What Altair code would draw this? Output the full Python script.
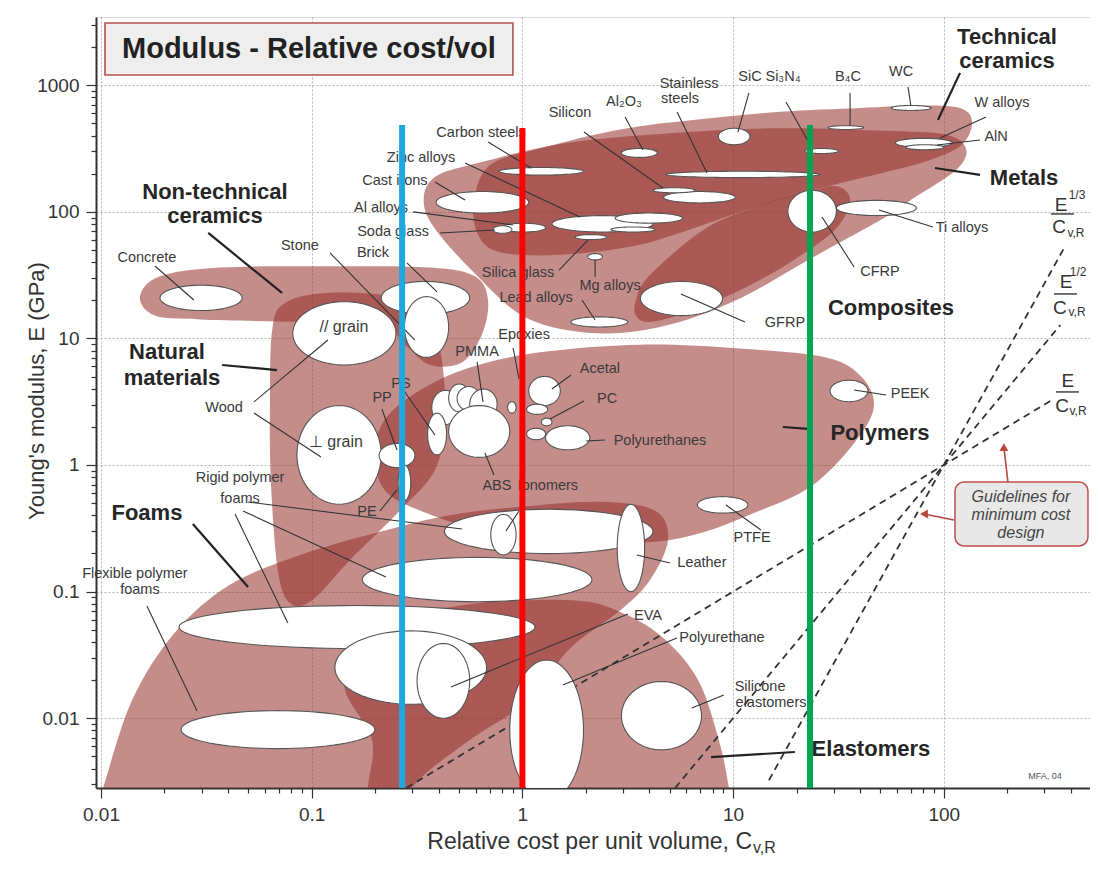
import altair as alt
import numpy as np
import pandas as pd

FONT = "Liberation Sans"

# ---------------------------------------------------------------------------
# Plot ranges: relative cost per unit volume (x) and Young's modulus, GPa (y)
X_DOMAIN = [0.00947, 494.0]
Y_DOMAIN = [0.00281, 3456.0]
W, H = 994, 771

# ---------------------------------------------------------------------------
# Family envelopes, control points as (log10 cost, log10 modulus)
env_technical_ceramics = [(-0.23, 2.09), (-0.154, 2.37), (0.083, 2.50), (0.463, 2.65), (0.842, 2.73),
                          (1.222, 2.79), (1.602, 2.82), (1.887, 2.84), (2.077, 2.82), (2.134, 2.71),
                          (2.086, 2.53), (1.934, 2.41), (1.716, 2.31), (1.379, 2.17), (1.037, 2.00),
                          (0.795, 1.86), (0.530, 1.73), (0.178, 1.66), (-0.106, 1.68), (-0.211, 1.82)]
env_metals = [(-0.467, 2.13), (-0.40, 2.29), (-0.201, 2.39), (0.193, 2.54), (0.70, 2.62), (1.208, 2.66),
              (1.716, 2.64), (2.005, 2.61), (2.105, 2.50), (2.058, 2.33), (1.84, 2.09), (1.716, 1.95),
              (1.379, 1.64), (1.037, 1.32), (0.70, 1.11), (0.363, 1.04), (0.022, 1.16), (-0.23, 1.52),
              (-0.429, 1.90)]
env_composites = [(0.539, 1.30), (0.605, 1.50), (0.871, 1.87), (1.128, 2.05), (1.379, 2.17), (1.498, 2.20),
                  (1.555, 2.09), (1.484, 1.86), (1.27, 1.60), (1.032, 1.38), (0.795, 1.21), (0.605, 1.13),
                  (0.539, 1.18)]
env_nontech_ceramics = [(-1.815, 1.33), (-1.72, 1.49), (-1.435, 1.56), (-0.913, 1.57), (-0.439, 1.56),
                        (-0.225, 1.49), (-0.163, 1.30), (-0.192, 1.03), (-0.287, 0.81), (-0.439, 0.79),
                        (-0.557, 0.95), (-0.676, 1.11), (-1.055, 1.13), (-1.53, 1.15), (-1.744, 1.18)]
env_natural = [(-1.187, 1.07), (-1.127, 1.28), (-0.913, 1.36), (-0.581, 1.32), (-0.439, 1.15), (-0.382, 0.83),
               (-0.368, 0.36), (-0.415, -0.04), (-0.581, -0.36), (-0.818, -0.75), (-0.999, -1.07),
               (-1.104, -1.09), (-1.161, -0.83), (-1.194, -0.12), (-1.198, 0.51)]
env_polymers = [(-0.70, 0.08), (-0.653, 0.36), (-0.486, 0.59), (-0.249, 0.77), (0.083, 0.89), (0.558, 0.95),
                (1.032, 0.92), (1.44, 0.85), (1.607, 0.70), (1.668, 0.46), (1.573, 0.17), (1.369, -0.17),
                (1.099, -0.38), (0.842, -0.54), (0.591, -0.61), (0.178, -0.59), (-0.201, -0.51),
                (-0.486, -0.36), (-0.653, -0.20)]
env_foams = [(-2.05, -2.88), (-1.99, -2.55), (-1.853, -1.86), (-1.653, -1.33), (-1.392, -0.95), (-1.055, -0.71),
             (-0.657, -0.52), (-0.358, -0.40), (-0.011, -0.33), (0.368, -0.29), (0.629, -0.36), (0.691, -0.59),
             (0.605, -0.91), (0.463, -1.15), (0.273, -1.38), (0.178, -1.54), (0.036, -1.86), (-0.249, -2.17),
             (-0.524, -2.55), (-0.557, -2.88)]
env_elastomers = [(-0.733, -2.88), (-0.733, -2.55), (-0.714, -2.17), (-0.842, -1.78), (-0.818, -1.46),
                  (-0.629, -1.24), (-0.296, -1.11), (-0.011, -1.07), (0.254, -1.07), (0.42, -1.13),
                  (0.643, -1.33), (0.828, -1.68), (0.932, -2.17), (0.980, -2.55), (1.008, -2.88)]

# ---------------------------------------------------------------------------
# Material bubbles: (name, log10 cost low, high, log10 modulus low, high)
bubbles_metals_ceramics = [
    ("Cast irons", -0.41, 0.03, 1.99, 2.16), ("Carbon steels", -0.11, 0.29, 2.29, 2.35),
    ("Zinc alloys", 0.14, 0.62, 1.84, 1.97), ("Cu alloys", 0.44, 0.76, 1.91, 1.99),
    ("Ni alloys", 0.42, 0.63, 1.84, 1.88), ("Silica glass", 0.25, 0.40, 1.78, 1.82),
    ("Al alloys", -0.10, 0.11, 1.84, 1.91), ("Soda glass", -0.14, -0.05, 1.83, 1.89),
    ("Mg alloys", 0.31, 0.38, 1.62, 1.67), ("Lead alloys", 0.23, 0.50, 1.09, 1.17),
    ("Silicon", 0.67, 1.01, 2.07, 2.16), ("Silicon b", 0.62, 0.82, 2.15, 2.19),
    ("Al2O3", 0.47, 0.64, 2.43, 2.50), ("Stainless steels", 0.68, 1.41, 2.27, 2.32),
    ("SiC", 0.93, 1.08, 2.53, 2.66), ("Si3N4", 1.34, 1.50, 2.46, 2.50),
    ("B4C", 1.45, 1.62, 2.65, 2.68), ("WC", 1.75, 1.94, 2.80, 2.84),
    ("W alloys", 1.77, 2.04, 2.51, 2.58), ("AlN", 1.82, 2.00, 2.49, 2.53),
    ("CFRP", 1.26, 1.49, 1.84, 2.17), ("Ti alloys", 1.49, 1.87, 1.97, 2.09),
    ("GFRP", 0.56, 0.95, 1.18, 1.45),
]
bubbles_natural = [
    ("Concrete", -1.72, -1.33, 1.22, 1.42), ("Brick", -0.67, -0.25, 1.19, 1.45),
    ("Stone", -0.56, -0.35, 0.85, 1.33), ("Wood par", -1.09, -0.60, 0.79, 1.29),
    ("Wood perp", -1.07, -0.67, -0.31, 0.47),
]
bubbles_polymers = [
    ("PP", -0.68, -0.51, -0.02, 0.17), ("PE", -0.59, -0.53, -0.28, 0.00),
    ("Poly a", -0.43, -0.30, 0.32, 0.59), ("Poly b", -0.35, -0.25, 0.42, 0.64),
    ("Poly c", -0.31, -0.20, 0.43, 0.62), ("PS", -0.45, -0.36, 0.08, 0.41),
    ("PMMA", -0.25, -0.12, 0.36, 0.60), ("ABS", -0.35, -0.06, 0.06, 0.47),
    ("Epoxies", -0.07, -0.03, 0.41, 0.50), ("Acetal", 0.03, 0.18, 0.47, 0.70),
    ("Polyester", 0.02, 0.12, 0.40, 0.48), ("PC", 0.09, 0.14, 0.31, 0.37),
    ("PET", 0.02, 0.11, 0.20, 0.29), ("Polyurethanes", 0.11, 0.32, 0.12, 0.31),
    ("PTFE", 0.83, 1.07, -0.38, -0.25), ("PEEK", 1.46, 1.64, 0.50, 0.67),
]
bubbles_foams_elastomers = [
    ("Rigid foam a", -0.37, 0.62, -0.70, -0.35), ("Ionomers", -0.15, -0.03, -0.71, -0.39),
    ("Leather", 0.45, 0.58, -1.00, -0.31), ("Rigid foam b", -0.76, 0.33, -1.08, -0.73),
    ("Rigid foam c", -1.63, 0.06, -1.45, -1.11), ("Flexible foam b", -0.89, -0.17, -1.89, -1.31),
    ("EVA", -0.50, -0.25, -2.00, -1.41), ("Flexible foams", -1.62, -0.70, -2.24, -1.94),
    ("Polyurethane", -0.06, 0.29, -2.65, -1.54), ("Silicone elastomers", 0.47, 0.85, -2.25, -1.71),
]

# ---------------------------------------------------------------------------
# Labels (text, log10 cost, log10 modulus)
material_labels = [
    ("Concrete", -1.782, 1.635), ("Stone", -1.056, 1.730), ("Brick", -0.709, 1.675),
    ("Soda glass", -0.614, 1.841), ("Al alloys", -0.671, 2.030), ("Cast irons", -0.605, 2.243),
    ("Zinc alloys", -0.481, 2.425), ("Carbon steels", -0.196, 2.623), ("Silicon", 0.226, 2.781),
    ("Al₂O₃", 0.482, 2.868), ("Stainless", 0.791, 3.010), ("steels", 0.748, 2.891),
    ("SiC", 1.080, 3.065), ("Si₃N₄", 1.237, 3.065), ("B₄C", 1.545, 3.065), ("WC", 1.797, 3.105),
    ("W alloys", 2.276, 2.860), ("AlN", 2.248, 2.591), ("Ti alloys", 2.086, 1.872),
    ("CFRP", 1.697, 1.525), ("GFRP", 1.246, 1.122), ("Silica glass", -0.021, 1.517),
    ("Mg alloys", 0.416, 1.414), ("Lead alloys", 0.065, 1.319), ("Epoxies", 0.008, 1.027),
    ("PMMA", -0.215, 0.893), ("Acetal", 0.368, 0.758), ("PC", 0.402, 0.521),
    ("Polyurethanes", 0.653, 0.190), ("PS", -0.576, 0.640), ("PP", -0.666, 0.529),
    ("PE", -0.738, -0.371), ("ABS", -0.121, -0.166), ("Ionomers", 0.121, -0.166),
    ("Rigid polymer", -1.340, -0.103), ("foams", -1.340, -0.269),
    ("Flexible polymer", -1.839, -0.861), ("foams", -1.815, -0.987),
    ("Wood", -1.416, 0.450), ("Leather", 0.852, -0.774), ("PTFE", 1.090, -0.577),
    ("PEEK", 1.840, 0.561), ("EVA", 0.596, -1.193), ("Polyurethane", 0.947, -1.367),
    ("Silicone", 1.128, -1.754), ("elastomers", 1.180, -1.880),
]
grain_labels = [("// grain", -0.847, 1.090), ("⊥ grain", -0.885, 0.182)]
family_labels = [
    ("Technical", 2.300, 3.381), ("ceramics", 2.300, 3.191), ("Metals", 2.381, 2.267),
    ("Non-technical", -1.459, 2.160), ("ceramics", -1.459, 1.967), ("Natural", -1.687, 0.893),
    ("materials", -1.663, 0.687), ("Foams", -1.782, -0.379), ("Composites", 1.749, 1.240),
    ("Polymers", 1.697, 0.253), ("Elastomers", 1.654, -2.243),
]

# Leader lines (log10 cost 1, log10 E 1, log10 cost 2, log10 E 2)
material_leaders = [
    (-1.744, 1.572, -1.559, 1.303), (-0.913, 1.675, -0.510, 0.987), (-0.548, 1.596, -0.405, 1.367),
    (-0.391, 1.833, -0.130, 1.856), (-0.519, 1.999, -0.044, 1.896), (-0.415, 2.235, -0.272, 2.093),
    (-0.272, 2.386, 0.273, 1.959), (-0.163, 2.551, 0.041, 2.346), (0.292, 2.630, 0.667, 2.188),
    (0.487, 2.749, 0.572, 2.488), (0.734, 2.788, 0.876, 2.307), (1.075, 2.939, 1.023, 2.630),
    (1.251, 2.868, 1.374, 2.504), (1.555, 2.939, 1.555, 2.678), (1.830, 2.986, 1.844, 2.836),
    (2.200, 2.749, 1.982, 2.583), (2.172, 2.567, 1.967, 2.527), (1.948, 1.880, 1.692, 2.014),
    (1.574, 1.564, 1.422, 1.959), (1.056, 1.130, 0.752, 1.351), (0.174, 1.540, 0.311, 1.777),
    (0.345, 1.485, 0.345, 1.619), (0.283, 1.303, 0.345, 1.145), (-0.044, 0.924, -0.016, 0.679),
    (-0.215, 0.814, -0.187, 0.498), (0.231, 0.711, 0.140, 0.600), (0.292, 0.506, 0.131, 0.363),
    (0.302, 0.190, 0.392, 0.197), (-0.558, 0.577, -0.415, 0.237), (-0.667, 0.442, -0.595, 0.118),
    (-0.676, -0.363, -0.595, -0.197), (-0.135, -0.079, -0.178, 0.095), (-0.016, -0.363, -0.078, -0.521),
    (-1.302, -0.292, -0.287, -0.506), (-1.326, -0.363, -0.648, -0.885), (-1.364, -0.387, -1.113, -1.248),
    (-1.782, -1.114, -1.544, -1.943), (-1.274, 0.498, -0.923, 0.987), (-1.274, 0.411, -0.956, 0.063),
    (0.543, -0.711, 0.700, -0.774), (0.966, -0.316, 1.132, -0.513), (1.574, 0.592, 1.726, 0.553),
    (0.501, -1.177, -0.339, -1.754), (0.733, -1.367, 0.192, -1.738), (0.956, -1.817, 0.804, -1.920),
]
family_leaders = [
    (2.077, 3.097, 1.972, 2.725), (2.172, 2.291, 1.958, 2.346), (-1.491, 1.833, -1.141, 1.359),
    (-1.425, 0.790, -1.165, 0.750), (-1.564, -0.466, -1.302, -0.964), (1.236, 0.300, 1.374, 0.284),
    (0.895, -2.307, 1.293, -2.267),
]

# Minimum-cost guidelines E/C, E^1/2/C, E^1/3/C (end points, log10 values)
guide_lines = [(-0.55, -2.55, 2.513, 0.513), (0.725, -2.55, 2.553, 1.106), (1.17, -2.49, 2.579, 1.738)]
guide_E = [("E", 2.556, 2.054), ("E", 2.580, 1.446), ("E", 2.589, 0.664)]
guide_exp = [("1/3", 2.632, 2.133), ("1/2", 2.637, 1.525)]
guide_C = [("C", 2.547, 1.880), ("C", 2.551, 1.240), ("C", 2.561, 0.466)]
guide_sub = [("v,R", 2.627, 1.833), ("v,R", 2.632, 1.209), ("v,R", 2.637, 0.427)]
guide_bars = [(2.508, 1.983, 2.617, 1.983), (2.523, 1.351, 2.632, 1.351), (2.532, 0.577, 2.641, 0.577)]
note_box = [(2.053, -0.134, 2.684, -0.640)]
note_text = [("Guidelines for", 2.366, -0.253), ("minimum cost", 2.366, -0.395), ("design", 2.366, -0.537)]
note_arrows = [(2.304, -0.134, 2.285, 0.142), (2.048, -0.434, 1.906, -0.387)]
note_heads = [("triangle-up", 2.285, 0.142), ("triangle-left", 1.906, -0.387)]

title_box = [(-1.981, 3.491, -0.045, 3.081)]
title_text = [("Modulus - Relative cost/vol", -1.013, 3.286)]
credit_text = [("MFA, 04", 2.480, -2.457)]

# Highlighted cost levels (colour, log10 cost, log10 top of line)
cost_lines = [("#1fa8e0", -0.571, 2.686), ("#ff0000", 0.0, 2.662), ("#00a651", 1.365, 2.686)]

# ---------------------------------------------------------------------------
xs = alt.Scale(type="log", domain=X_DOMAIN, nice=False)
ys = alt.Scale(type="log", domain=Y_DOMAIN, nice=False)
dec = "abs(log(datum.value)/LN10 - round(log(datum.value)/LN10)) < 0.001"
x_ticks = [m * 10.0 ** k for k in range(-2, 3) for m in range(1, 10)
           if X_DOMAIN[0] <= m * 10.0 ** k <= X_DOMAIN[1]]
y_ticks = [m * 10.0 ** k for k in range(-3, 4) for m in range(1, 10)
           if Y_DOMAIN[0] <= m * 10.0 ** k <= Y_DOMAIN[1]]

common_axis = dict(
    labelExpr=f"({dec}) ? format(datum.value, '~g') : ''",
    gridOpacity={"condition": {"test": dec, "value": 1}, "value": 0},
    tickSize={"condition": {"test": dec, "value": 10}, "value": 5},
    grid=True, gridColor="#b5b5b5", gridDash=[2, 2], gridWidth=1,
    tickColor="#333333", tickWidth=1.2, domainColor="#333333", domainWidth=2,
    labelFont=FONT, labelFontSize=19, labelColor="#333333",
    labelOverlap=False, labelFlush=False, labelBound=False, title=None,
)
x_axis = alt.Axis(values=x_ticks, labelPadding=7, **common_axis)
y_axis = alt.Axis(values=y_ticks, labelPadding=7, **common_axis)


def XQ(f="C"):
    return alt.X(f"{f}:Q", scale=xs, axis=x_axis)


def YQ(f="E"):
    return alt.Y(f"{f}:Q", scale=ys, axis=y_axis)


def pts_df(rows):
    df = pd.DataFrame(rows, columns=["label", "lc", "lm"])
    df["C"] = 10 ** df["lc"]
    df["E"] = 10 ** df["lm"]
    return df


def seg_df(rows):
    df = pd.DataFrame(rows, columns=["c1", "m1", "c2", "m2"])
    df["C1"] = 10 ** df["c1"]
    df["E1"] = 10 ** df["m1"]
    df["C2"] = 10 ** df["c2"]
    df["E2"] = 10 ** df["m2"]
    return df


def text_layer(rows, size, weight="normal", color="#3a3a3a", style="normal", align="center"):
    return alt.Chart(pts_df(rows)).mark_text(
        font=FONT, fontSize=size, fontWeight=weight, fontStyle=style, color=color,
        align=align, baseline="middle").encode(x=XQ(), y=YQ(), text="label:N")


def seg_layer(rows, **kw):
    return alt.Chart(seg_df(rows)).mark_rule(**kw).encode(
        x=XQ("C1"), y=YQ("E1"), x2="C2:Q", y2="E2:Q")


def box_layer(rows, **kw):
    return alt.Chart(seg_df(rows)).mark_rect(**kw).encode(
        x=XQ("C1"), y=YQ("E1"), x2="C2:Q", y2="E2:Q")


# envelopes
env_rows = []
for fam, pts in [("tech", env_technical_ceramics), ("metals", env_metals), ("comp", env_composites),
                 ("ntc", env_nontech_ceramics), ("nat", env_natural), ("poly", env_polymers),
                 ("foam", env_foams), ("elast", env_elastomers)]:
    for i, (lc, lm) in enumerate(pts):
        env_rows.append({"fam": fam, "i": i, "C": 10 ** lc, "E": 10 ** lm})
envelopes = alt.Chart(pd.DataFrame(env_rows)).mark_line(
    interpolate="cardinal-closed", fill="#962f2a", fillOpacity=0.55, strokeOpacity=0, clip=True
).encode(x=XQ(), y=YQ(), detail="fam:N", order="i:Q")

# bubbles as ellipses spanning their property ranges
ell_rows = []
k = 0
theta = np.linspace(0, 2 * np.pi, 72, endpoint=False)
for group in [bubbles_natural, bubbles_metals_ceramics, bubbles_polymers, bubbles_foams_elastomers]:
    for name, c0, c1, e0, e1 in group:
        cc, ce, rc, rm = (c0 + c1) / 2, (e0 + e1) / 2, (c1 - c0) / 2, (e1 - e0) / 2
        for i, t in enumerate(theta):
            ell_rows.append({"key": f"b{k:03d}", "i": i,
                             "C": 10 ** (cc + rc * np.cos(t)), "E": 10 ** (ce + rm * np.sin(t))})
        k += 1
ellipses = alt.Chart(pd.DataFrame(ell_rows)).mark_line(
    interpolate="linear-closed", fill="white", stroke="#555555", strokeWidth=1.1, clip=True
).encode(x=XQ(), y=YQ(), detail="key:N", order="i:Q")

guides = seg_layer(guide_lines, color="#333333", strokeWidth=1.8, strokeDash=[7, 5], clip=True)
mat_lead = seg_layer(material_leaders, color="#333333", strokeWidth=1.1)
fam_lead = seg_layer(family_leaders, color="#222222", strokeWidth=2.2)

title_rect = box_layer(title_box, fill="#eeeeee", stroke="#b5534b", strokeWidth=1.6)
note_rect = box_layer(note_box, fill="#e8e8e8", stroke="#c0504d", strokeWidth=1.5, cornerRadius=9)
arrows = seg_layer(note_arrows, color="#b8473d", strokeWidth=1.6)
heads = alt.Chart(pts_df(note_heads)).mark_point(filled=True, color="#b8473d", size=80, opacity=1).encode(
    x=XQ(), y=YQ(), shape=alt.Shape("label:N", scale=None))

cl = pd.DataFrame(cost_lines, columns=["col", "lc", "lm"])
cl["C"] = 10 ** cl["lc"]
cl["E"] = 10 ** cl["lm"]
cl["E0"] = Y_DOMAIN[0]
cost_rules = alt.Chart(cl).mark_rule(strokeWidth=6).encode(
    x=XQ(), y=YQ(), y2="E0:Q", color=alt.Color("col:N", scale=None))

one = pd.DataFrame({"a": [0]})
y_title = alt.Chart(one).mark_text(text="Young's modulus, E (GPa)", font=FONT, fontSize=22, angle=270,
                                   color="#333333", align="center", baseline="middle").encode(
    x=alt.value(-59), y=alt.value(374))
x_title = alt.Chart(one).mark_text(text="Relative cost per unit volume, C", font=FONT, fontSize=23,
                                   color="#333333", align="right", baseline="alphabetic").encode(
    x=alt.value(656), y=alt.value(832))
x_title_sub = alt.Chart(one).mark_text(text="v,R", font=FONT, fontSize=16, color="#333333",
                                       align="left", baseline="alphabetic").encode(
    x=alt.value(657), y=alt.value(836))

chart = alt.layer(
    envelopes,
    guides,
    ellipses,
    mat_lead,
    fam_lead,
    title_rect,
    note_rect,
    arrows,
    heads,
    text_layer(material_labels, 14.5),
    text_layer(grain_labels, 16),
    text_layer(family_labels, 22, weight="bold", color="#262626"),
    text_layer(title_text, 29, weight="bold", color="#222222"),
    text_layer(credit_text, 9, color="#555555"),
    text_layer(note_text, 16, style="italic", color="#444444"),
    text_layer(guide_E, 19, color="#333333"),
    text_layer(guide_exp, 12, color="#333333"),
    text_layer(guide_C, 19, color="#333333"),
    text_layer(guide_sub, 12, color="#333333"),
    seg_layer(guide_bars, color="#333333", strokeWidth=1.4),
    cost_rules,
    y_title,
    x_title,
    x_title_sub,
).properties(
    width=W, height=H,
    padding={"left": 88, "top": 9, "right": 0, "bottom": 69},
    autosize=alt.AutoSizeParams(type="none"),
).configure_view(stroke="#666666", strokeWidth=1.5).configure(background="white")

chart.save("out.html", embed_options={"renderer": "svg", "actions": False})
